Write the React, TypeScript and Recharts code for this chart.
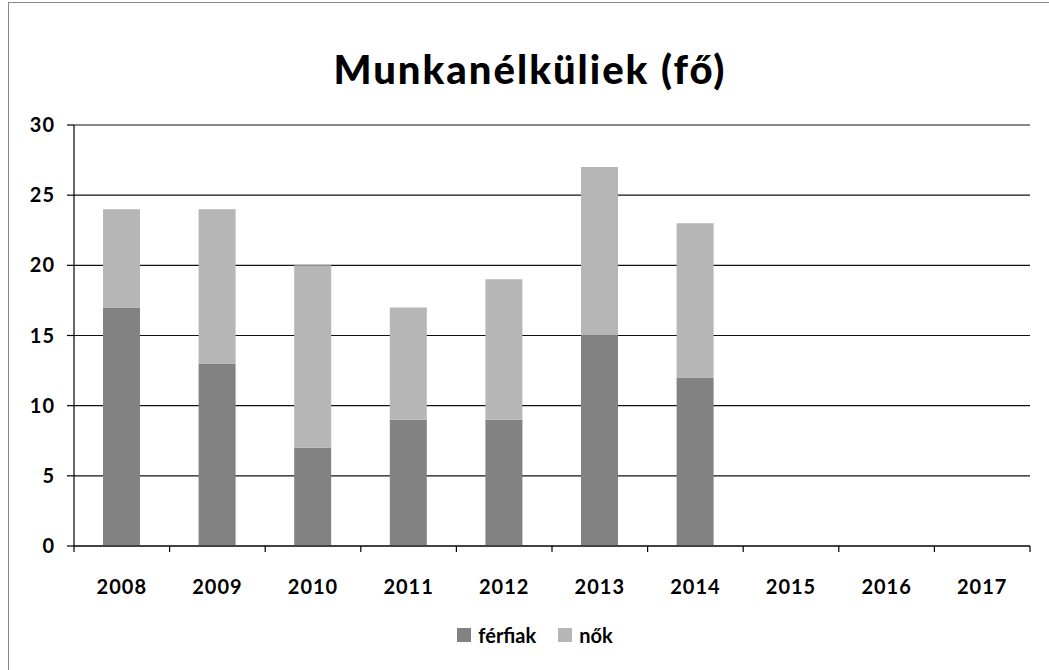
import { BarChart, Bar, XAxis, YAxis, CartesianGrid, Legend } from 'recharts';

const years = ['2008', '2009', '2010', '2011', '2012', '2013', '2014', '2015', '2016', '2017'];
const ferfiak = [17, 13, 7, 9, 9, 15, 12, null, null, null];
const nok = [7, 11, 13, 8, 10, 12, 11, null, null, null];
const yTicks = [0, 5, 10, 15, 20, 25, 30];

const chartData = years.map((year, i) => ({ year, ferfiak: ferfiak[i], nok: nok[i] }));

const FONT = 'Lato, "Open Sans", sans-serif';
const DARK = '#828282';
const LIGHT = '#b6b6b6';

function XTick(props: any) {
  const { x, y, payload, index, width, visibleTicksCount } = props;
  const band = width && visibleTicksCount ? width / visibleTicksCount : 95.6;
  const left = x - band / 2;
  return (
    <g>
      <line x1={left} x2={left} y1={y} y2={y + 6} stroke="#000" strokeWidth={1.2} />
      {index === visibleTicksCount - 1 && (
        <line x1={left + band} x2={left + band} y1={y} y2={y + 6} stroke="#000" strokeWidth={1.2} />
      )}
      <text x={x} y={y + 48} textAnchor="middle" fontFamily={FONT} fontWeight={700} fontSize={20} letterSpacing={1} fill="#000">
        {payload.value}
      </text>
    </g>
  );
}

function LegendContent() {
  const items = [
    { label: 'férfiak', color: DARK },
    { label: 'nők', color: LIGHT },
  ];
  return (
    <div style={{ height: 20, paddingLeft: 40, display: 'flex', justifyContent: 'center', alignItems: 'center', gap: 22, fontFamily: FONT, fontWeight: 700, fontSize: 20 }}>
      {items.map((it) => (
        <span key={it.label} style={{ display: 'flex', alignItems: 'center', gap: 7 }}>
          <span style={{ width: 14, height: 14, background: it.color, display: 'inline-block' }} />
          {it.label}
        </span>
      ))}
    </div>
  );
}

export default function App() {
  return (
    <div style={{ position: 'absolute', left: 0, top: 0, width: 1049, height: 670, background: '#fff' }}>
      <div style={{ position: 'absolute', left: 8, top: 2, width: 1041, height: 668, borderLeft: '1px solid #888', borderTop: '1px solid #888' }} />
      <div style={{ position: 'absolute', left: 280, width: 500, top: 45, textAlign: 'center', whiteSpace: 'nowrap', fontFamily: FONT, fontWeight: 900, fontSize: 40, letterSpacing: 2, color: '#000' }}>
        Munkanélküliek (fő)
      </div>
      <BarChart
        width={1049}
        height={670}
        data={chartData}
        margin={{ top: 125, right: 19, left: 0, bottom: 25 }}
        barSize={37}
        style={{ position: 'absolute', left: 0, top: 0 }}
      >
        <CartesianGrid vertical={false} stroke="#111" strokeWidth={1.2} />
        <XAxis
          dataKey="year"
          height={79}
          tickLine={false}
          tickSize={0}
          tickMargin={0}
          stroke="#000"
          strokeWidth={1.2}
          tick={<XTick />}
          interval={0}
        />
        <YAxis
          width={74}
          domain={[0, 30]}
          ticks={yTicks}
          tickSize={7}
          tickMargin={12}
          stroke="#000"
          strokeWidth={1.2}
          tick={{ fontFamily: FONT, fontWeight: 700, fontSize: 20, letterSpacing: 1, fill: '#000' }}
        />
        <Legend verticalAlign="bottom" content={<LegendContent />} />
        <Bar dataKey="ferfiak" name="férfiak" stackId="a" fill={DARK} isAnimationActive={false} />
        <Bar dataKey="nok" name="nők" stackId="a" fill={LIGHT} isAnimationActive={false} />
      </BarChart>
    </div>
  );
}
